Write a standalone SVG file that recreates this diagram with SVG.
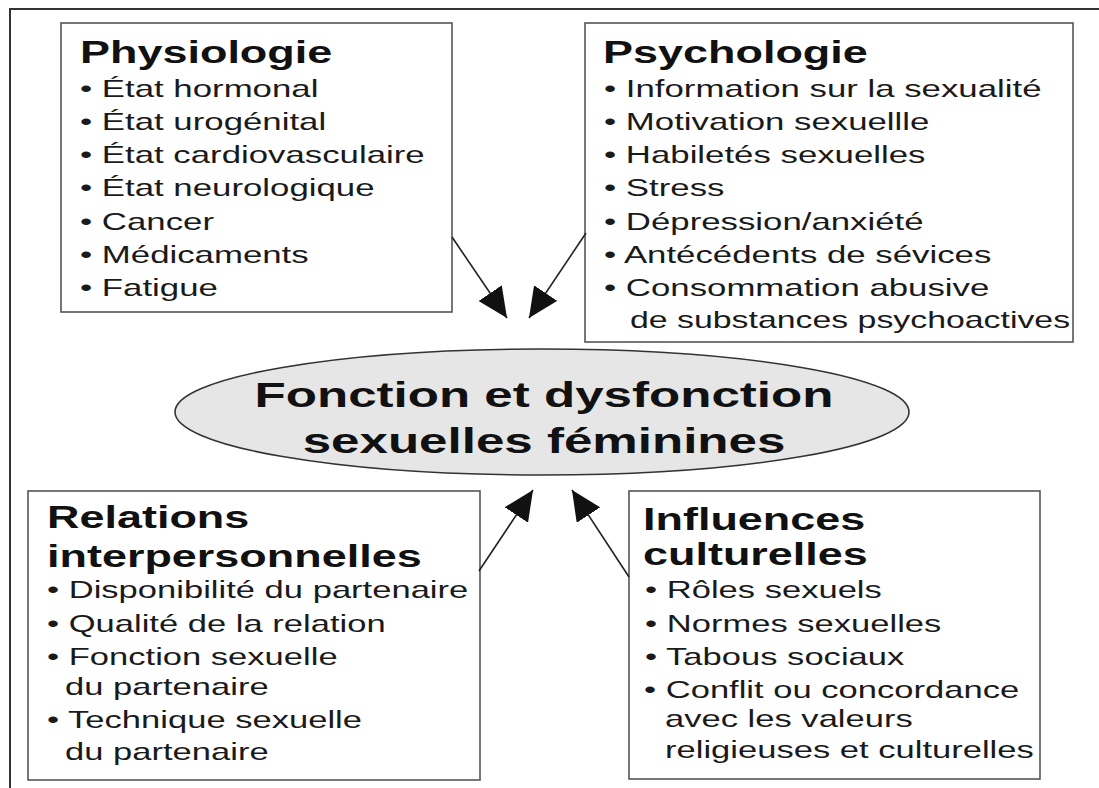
<svg xmlns="http://www.w3.org/2000/svg" width="1099" height="788" viewBox="0 0 1099 788">
<defs>
<style>
.box{fill:#fff;stroke:#555;stroke-width:1.6}
.frame{fill:none;stroke:#333;stroke-width:2}
.ell{fill:#e6e6e6;stroke:#333;stroke-width:1.6}
.h{font-family:"Liberation Sans",Arial,sans-serif;font-weight:bold;font-size:31px;fill:#111}
.t{font-family:"Liberation Sans",Arial,sans-serif;font-size:24px;fill:#1a1a1a}
.c{font-family:"Liberation Sans",Arial,sans-serif;font-weight:bold;font-size:35px;fill:#111;text-anchor:middle}
.arr{fill:none;stroke:#222;stroke-width:1.6;marker-end:url(#ah)}
</style>
<marker id="ah" viewBox="0 0 30 28" refX="30" refY="14" markerWidth="30" markerHeight="28" markerUnits="userSpaceOnUse" orient="auto">
<path d="M0,0 L30,14 L0,28 z" fill="#111"/>
</marker>
</defs>
<rect width="1099" height="788" fill="#fff"/>
<path class="frame" d="M10,788 L10,9 L1099,9"/>

<g id="physiologie">
<rect class="box" x="61" y="23" width="391" height="289"/>
<text class="h" transform="translate(80,63) scale(1.45,1)">Physiologie</text>
<text class="t" transform="translate(80,97) scale(1.45,1)">• État hormonal</text>
<text class="t" transform="translate(80,130) scale(1.45,1)">• État urogénital</text>
<text class="t" transform="translate(80,163) scale(1.45,1)">• État cardiovasculaire</text>
<text class="t" transform="translate(80,196) scale(1.45,1)">• État neurologique</text>
<text class="t" transform="translate(80,230) scale(1.45,1)">• Cancer</text>
<text class="t" transform="translate(80,263) scale(1.45,1)">• Médicaments</text>
<text class="t" transform="translate(80,296) scale(1.45,1)">• Fatigue</text>
</g>

<g id="psychologie">
<rect class="box" x="585" y="23" width="488" height="319"/>
<text class="h" transform="translate(603,63) scale(1.45,1)">Psychologie</text>
<text class="t" transform="translate(604,97) scale(1.45,1)">• Information sur la sexualité</text>
<text class="t" transform="translate(604,130) scale(1.45,1)">• Motivation sexuellle</text>
<text class="t" transform="translate(604,163) scale(1.45,1)">• Habiletés sexuelles</text>
<text class="t" transform="translate(604,196) scale(1.45,1)">• Stress</text>
<text class="t" transform="translate(604,230) scale(1.45,1)">• Dépression/anxiété</text>
<text class="t" transform="translate(604,263) scale(1.45,1)">• Antécédents de sévices</text>
<text class="t" transform="translate(604,296) scale(1.45,1)">• Consommation abusive</text>
<text class="t" transform="translate(630,328) scale(1.41,1)">de substances psychoactives</text>
</g>

<g id="centre">
<ellipse class="ell" cx="542" cy="412" rx="367" ry="63"/>
<text class="c" transform="translate(544,407) scale(1.46,1)">Fonction et dysfonction</text>
<text class="c" transform="translate(544,453) scale(1.46,1)">sexuelles féminines</text>
</g>

<g id="relations">
<rect class="box" x="28" y="491" width="452" height="289"/>
<text class="h" transform="translate(47,528) scale(1.45,1)">Relations</text>
<text class="h" transform="translate(47,567) scale(1.45,1)">interpersonnelles</text>
<text class="t" transform="translate(47,598) scale(1.44,1)">• Disponibilité du partenaire</text>
<text class="t" transform="translate(47,632) scale(1.44,1)">• Qualité de la relation</text>
<text class="t" transform="translate(47,665) scale(1.44,1)">• Fonction sexuelle</text>
<text class="t" transform="translate(65,695) scale(1.44,1)">du partenaire</text>
<text class="t" transform="translate(47,728) scale(1.44,1)">• Technique sexuelle</text>
<text class="t" transform="translate(65,760) scale(1.44,1)">du partenaire</text>
</g>

<g id="influences">
<rect class="box" x="629" y="491" width="411" height="288"/>
<text class="h" transform="translate(643,530) scale(1.45,1)">Influences</text>
<text class="h" transform="translate(643,565) scale(1.45,1)">culturelles</text>
<text class="t" transform="translate(645,598) scale(1.44,1)">• Rôles sexuels</text>
<text class="t" transform="translate(645,632) scale(1.44,1)">• Normes sexuelles</text>
<text class="t" transform="translate(645,665) scale(1.44,1)">• Tabous sociaux</text>
<text class="t" transform="translate(644,698) scale(1.44,1)">• Conflit ou concordance</text>
<text class="t" transform="translate(665,727) scale(1.44,1)">avec les valeurs</text>
<text class="t" transform="translate(665,758) scale(1.44,1)">religieuses et culturelles</text>
</g>

<g id="connectors">
<path class="arr" d="M452,237 L507,318"/>
<path class="arr" d="M586,233 L529,318"/>
<path class="arr" d="M479,571 L533,490"/>
<path class="arr" d="M629,577 L572,490"/>
</g>
</svg>
